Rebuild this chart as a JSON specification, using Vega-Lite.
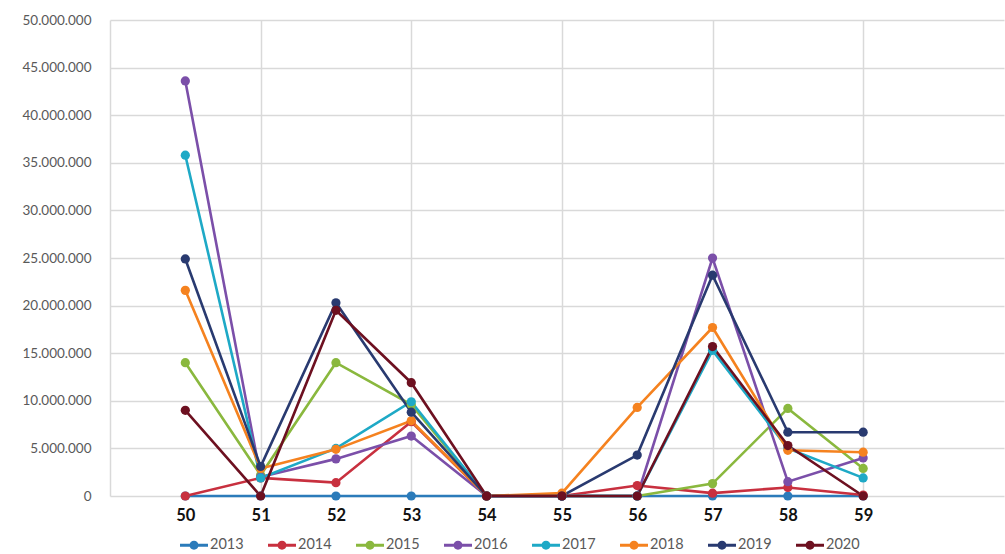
{
  "$schema": "https://vega.github.io/schema/vega-lite/v6.json",
  "width": 894,
  "height": 476,
  "autosize": {"type": "none"},
  "padding": {"left": 110, "top": 20, "right": 1, "bottom": 58},
  "background": "white",
  "config": {
    "view": {"stroke": null},
    "font": "Lato"
  },
  "data": {
    "values": [
      {"cat": 50, "year": "2013", "value": 0},
      {"cat": 51, "year": "2013", "value": 0},
      {"cat": 52, "year": "2013", "value": 0},
      {"cat": 53, "year": "2013", "value": 0},
      {"cat": 54, "year": "2013", "value": 0},
      {"cat": 55, "year": "2013", "value": 0},
      {"cat": 56, "year": "2013", "value": 0},
      {"cat": 57, "year": "2013", "value": 0},
      {"cat": 58, "year": "2013", "value": 0},
      {"cat": 59, "year": "2013", "value": 0},
      {"cat": 50, "year": "2014", "value": 0},
      {"cat": 51, "year": "2014", "value": 1900000},
      {"cat": 52, "year": "2014", "value": 1400000},
      {"cat": 53, "year": "2014", "value": 7800000},
      {"cat": 54, "year": "2014", "value": 0},
      {"cat": 55, "year": "2014", "value": 0},
      {"cat": 56, "year": "2014", "value": 1100000},
      {"cat": 57, "year": "2014", "value": 300000},
      {"cat": 58, "year": "2014", "value": 900000},
      {"cat": 59, "year": "2014", "value": 100000},
      {"cat": 50, "year": "2015", "value": 14000000},
      {"cat": 51, "year": "2015", "value": 2200000},
      {"cat": 52, "year": "2015", "value": 14000000},
      {"cat": 53, "year": "2015", "value": 9600000},
      {"cat": 54, "year": "2015", "value": 0},
      {"cat": 55, "year": "2015", "value": 0},
      {"cat": 56, "year": "2015", "value": 0},
      {"cat": 57, "year": "2015", "value": 1300000},
      {"cat": 58, "year": "2015", "value": 9200000},
      {"cat": 59, "year": "2015", "value": 2900000},
      {"cat": 50, "year": "2016", "value": 43600000},
      {"cat": 51, "year": "2016", "value": 2000000},
      {"cat": 52, "year": "2016", "value": 3900000},
      {"cat": 53, "year": "2016", "value": 6300000},
      {"cat": 54, "year": "2016", "value": 0},
      {"cat": 55, "year": "2016", "value": 0},
      {"cat": 56, "year": "2016", "value": 0},
      {"cat": 57, "year": "2016", "value": 25000000},
      {"cat": 58, "year": "2016", "value": 1500000},
      {"cat": 59, "year": "2016", "value": 4000000},
      {"cat": 50, "year": "2017", "value": 35800000},
      {"cat": 51, "year": "2017", "value": 1900000},
      {"cat": 52, "year": "2017", "value": 5000000},
      {"cat": 53, "year": "2017", "value": 9900000},
      {"cat": 54, "year": "2017", "value": 0},
      {"cat": 55, "year": "2017", "value": 0},
      {"cat": 56, "year": "2017", "value": 0},
      {"cat": 57, "year": "2017", "value": 15300000},
      {"cat": 58, "year": "2017", "value": 5000000},
      {"cat": 59, "year": "2017", "value": 1900000},
      {"cat": 50, "year": "2018", "value": 21600000},
      {"cat": 51, "year": "2018", "value": 2900000},
      {"cat": 52, "year": "2018", "value": 4900000},
      {"cat": 53, "year": "2018", "value": 7900000},
      {"cat": 54, "year": "2018", "value": 0},
      {"cat": 55, "year": "2018", "value": 300000},
      {"cat": 56, "year": "2018", "value": 9300000},
      {"cat": 57, "year": "2018", "value": 17700000},
      {"cat": 58, "year": "2018", "value": 4800000},
      {"cat": 59, "year": "2018", "value": 4600000},
      {"cat": 50, "year": "2019", "value": 24900000},
      {"cat": 51, "year": "2019", "value": 3100000},
      {"cat": 52, "year": "2019", "value": 20300000},
      {"cat": 53, "year": "2019", "value": 8800000},
      {"cat": 54, "year": "2019", "value": 0},
      {"cat": 55, "year": "2019", "value": 0},
      {"cat": 56, "year": "2019", "value": 4300000},
      {"cat": 57, "year": "2019", "value": 23200000},
      {"cat": 58, "year": "2019", "value": 6700000},
      {"cat": 59, "year": "2019", "value": 6700000},
      {"cat": 50, "year": "2020", "value": 9000000},
      {"cat": 51, "year": "2020", "value": 0},
      {"cat": 52, "year": "2020", "value": 19500000},
      {"cat": 53, "year": "2020", "value": 11900000},
      {"cat": 54, "year": "2020", "value": 0},
      {"cat": 55, "year": "2020", "value": 0},
      {"cat": 56, "year": "2020", "value": 0},
      {"cat": 57, "year": "2020", "value": 15700000},
      {"cat": 58, "year": "2020", "value": 5300000},
      {"cat": 59, "year": "2020", "value": 0}
    ]
  },
  "mark": {"type": "line", "strokeWidth": 2.6, "point": {"filled": true, "size": 85, "opacity": 1}},
  "encoding": {
    "x": {
      "field": "cat",
      "type": "quantitative",
      "scale": {"domain": [49, 60.87], "nice": false, "zero": false},
      "axis": {
        "title": null,
        "values": [49, 50, 51, 52, 53, 54, 55, 56, 57, 58, 59],
        "labelExpr": "datum.value == 49 ? '' : datum.label",
        "format": "d",
        "grid": true,
        "gridColor": "#d9d9d9",
        "gridWidth": 1.5,
        "gridOpacity": {"condition": {"test": "datum.value % 2 == 0", "value": 0}, "value": 1},
        "ticks": false,
        "domain": false,
        "labelPadding": 11,
        "labelFontSize": 16.5,
        "labelFontWeight": "bold",
        "labelColor": "#111111",
        "labelFont": "Lato"
      }
    },
    "y": {
      "field": "value",
      "type": "quantitative",
      "scale": {"domain": [0, 50000000], "nice": false},
      "axis": {
        "title": null,
        "values": [0, 5000000, 10000000, 15000000, 20000000, 25000000, 30000000, 35000000, 40000000, 45000000, 50000000],
        "labelExpr": "replace(format(datum.value, ','), regexp(',', 'g'), '.')",
        "grid": true,
        "gridColor": "#d9d9d9",
        "gridWidth": 1.5,
        "ticks": false,
        "domain": false,
        "labelPadding": 19,
        "labelFontSize": 13.5,
        "labelColor": "#595959",
        "labelFont": "Lato"
      }
    },
    "color": {
      "field": "year",
      "type": "nominal",
      "scale": {
        "domain": ["2013", "2014", "2015", "2016", "2017", "2018", "2019", "2020"],
        "range": ["#2b7bba", "#c8303f", "#8ab83e", "#7b4fa9", "#1ea9c6", "#f5821f", "#293a70", "#6d1020"]
      },
      "legend": {
        "title": null,
        "orient": "none",
        "legendX": 70,
        "legendY": 511,
        "direction": "horizontal",
        "columns": 8,
        "symbolType": "M-1,-0.1L1,-0.1L1,0.1L-1,0.1Z M0.32,0A0.32,0.32 0 1,1 -0.32,0A0.32,0.32 0 1,1 0.32,0Z",
        "symbolSize": 784,
        "symbolStrokeWidth": 0,
        "labelFontSize": 14.5,
        "labelColor": "#595959",
        "labelFont": "Lato",
        "labelOffset": 2,
        "columnPadding": 24,
        "encode": {
          "symbols": {
            "update": {
              "fill": {"scale": "color", "field": "value"},
              "fillOpacity": {"value": 1}
            }
          }
        }
      }
    }
  }
}
